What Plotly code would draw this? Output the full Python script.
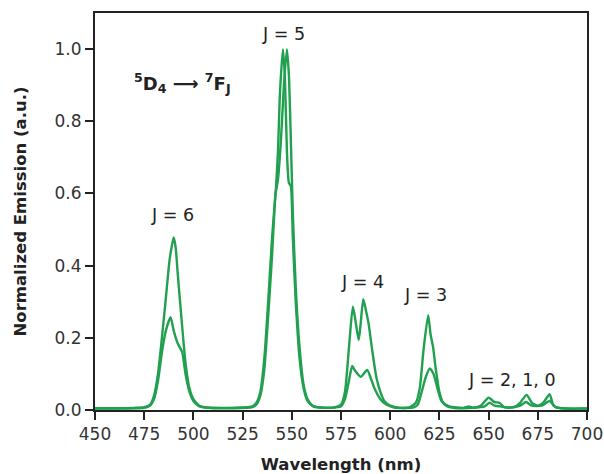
import plotly.graph_objects as go

# Tb(III) emission spectra, two samples, normalized to the 5D4 -> 7F5 band
wl_a = [450, 460, 470, 475, 478, 480, 482, 484, 486, 488, 490, 491, 492, 494, 496, 498, 500,
        503, 506, 515, 525, 530, 532, 534, 536, 538, 540, 542, 543, 544, 545.5, 546.5, 547.5,
        548.5, 549.5, 550.5, 552, 554, 556, 558, 561, 565, 572, 575, 577, 579, 581, 582, 584,
        585, 586.3, 587.5, 589, 591, 593, 595, 597, 600, 605, 610, 613, 615, 617, 619.3, 620.5,
        621.8, 623, 625, 627, 630, 637, 640, 642, 646, 650, 653, 655.5, 658, 663, 666, 669.3,
        672, 675, 678, 681, 683, 686, 700]
em_a = [0.005, 0.005, 0.006, 0.008, 0.015, 0.04, 0.10, 0.20, 0.31, 0.42, 0.478, 0.45, 0.38,
        0.25, 0.13, 0.06, 0.03, 0.012, 0.008, 0.006, 0.007, 0.01, 0.02, 0.05, 0.14, 0.30, 0.48,
        0.62, 0.72, 0.88, 1.0, 0.92, 0.72, 0.63, 0.62, 0.48, 0.30, 0.14, 0.06, 0.025, 0.01,
        0.007, 0.008, 0.015, 0.05, 0.17, 0.286, 0.26, 0.194, 0.24, 0.307, 0.28, 0.24, 0.16,
        0.09, 0.05, 0.025, 0.012, 0.006, 0.008, 0.02, 0.06, 0.17, 0.263, 0.21, 0.174, 0.12,
        0.05, 0.02, 0.01, 0.006, 0.01, 0.006, 0.012, 0.034, 0.022, 0.02, 0.008, 0.008, 0.02,
        0.042, 0.02, 0.012, 0.022, 0.044, 0.012, 0.005, 0.004]

wl_b = [450, 475, 478, 480, 482, 484, 486, 488.4, 490, 492, 494.3, 496, 498, 500, 503, 510,
        530, 532, 534, 536, 538, 540, 541.7, 543, 544.5, 546, 547.5, 548.5, 549.5, 550.5, 552,
        554, 556, 558, 561, 570, 575, 577, 579, 580.7, 582, 585, 588.3, 590, 592, 595, 598,
        602, 612, 614, 616, 618, 620.1, 622, 624, 626, 629, 635, 648, 650.5, 653, 656, 660,
        666, 669, 672, 677, 681, 684, 690, 700]
em_b = [0.004, 0.006, 0.012, 0.03, 0.08, 0.16, 0.22, 0.257, 0.22, 0.185, 0.16, 0.10, 0.05,
        0.025, 0.01, 0.005, 0.008, 0.015, 0.04, 0.11, 0.26, 0.43, 0.596, 0.64, 0.75, 0.9, 1.0,
        0.93, 0.75, 0.55, 0.34, 0.17, 0.07, 0.03, 0.01, 0.006, 0.01, 0.03, 0.08, 0.122, 0.11,
        0.092, 0.111, 0.09, 0.06, 0.03, 0.015, 0.007, 0.007, 0.015, 0.05, 0.09, 0.115, 0.10,
        0.06, 0.025, 0.01, 0.005, 0.01, 0.02, 0.012, 0.01, 0.006, 0.012, 0.022, 0.012, 0.012,
        0.025, 0.008, 0.004, 0.004]

band_labels = ["J = 6", "J = 5", "J = 4", "J = 3", "J = 2, 1, 0"]
band_label_x = [489.6, 545.9, 586.0, 618.0, 662.0]
band_label_y = [0.54, 1.042, 0.355, 0.319, 0.083]

x_ticks = [450, 475, 500, 525, 550, 575, 600, 625, 650, 675, 700]
y_ticks = [0.0, 0.2, 0.4, 0.6, 0.8, 1.0]

GREEN = "#21a04f"
INK = "#222222"
FONT = "DejaVu Sans"

fig = go.Figure()
for wl, em in [(wl_a, em_a), (wl_b, em_b)]:
    fig.add_trace(go.Scatter(
        x=wl, y=em, mode="lines",
        line=dict(color=GREEN, width=2.4, shape="spline", smoothing=0.6),
        showlegend=False, hoverinfo="skip",
    ))

for txt, lx, ly in zip(band_labels, band_label_x, band_label_y):
    fig.add_annotation(x=lx, y=ly, text=txt, showarrow=False,
                       font=dict(family=FONT, size=17.5, color=INK),
                       xanchor="center", yanchor="middle")

fig.add_annotation(
    x=468.6, y=0.905, xanchor="left", yanchor="middle", showarrow=False,
    text="<b><sup>5</sup>D<sub>4</sub> \u27f6 <sup>7</sup>F<sub>J</sub></b>",
    font=dict(family=FONT, size=18, color=INK),
)

axis_common = dict(
    showline=True, linecolor=INK, linewidth=2, mirror=True,
    ticks="outside", ticklen=8, tickwidth=2, tickcolor=INK,
    showgrid=False, zeroline=False, automargin=False,
    tickfont=dict(family=FONT, size=17, color="#333333"),
)

fig.update_xaxes(
    range=[450, 700], tickvals=x_ticks, ticktext=[str(v) for v in x_ticks],
    title=dict(text="<b>Wavelength (nm)</b>", standoff=28,
               font=dict(family=FONT, size=16.5, color=INK)),
    **axis_common,
)
fig.update_yaxes(
    range=[0, 1.1], tickvals=y_ticks, ticktext=[f"{v:.1f}" for v in y_ticks],
    title=dict(text="<b>Normalized Emission (a.u.)</b>", standoff=24,
               font=dict(family=FONT, size=16.5, color=INK)),
    **axis_common,
)

fig.update_layout(
    width=604, height=474,
    margin=dict(l=95, r=17, t=13, b=64),
    plot_bgcolor="white", paper_bgcolor="white",
)

fig.write_html("out.html")
